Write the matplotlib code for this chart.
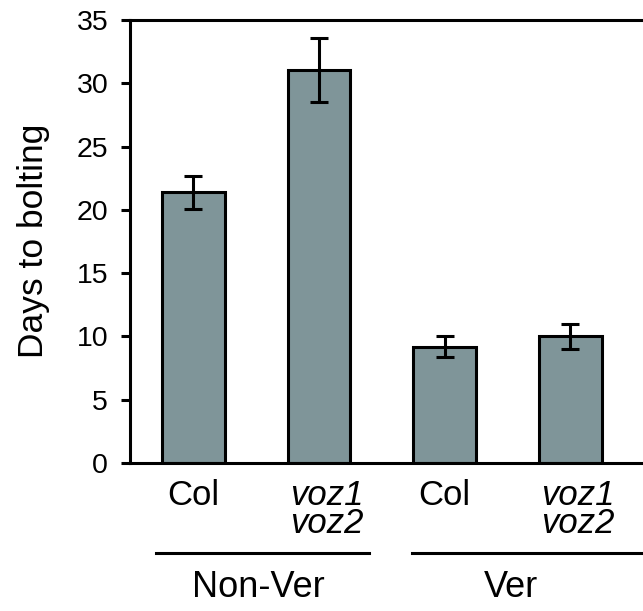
import matplotlib
matplotlib.use("Agg")
import matplotlib.pyplot as plt

plt.rcParams['font.family'] = ['Liberation Sans', 'DejaVu Sans']

categories = ["Col", "voz1\nvoz2", "Col", "voz1\nvoz2"]
italic = [False, True, False, True]
values = [21.4, 31.05, 9.2, 10.0]
errors = [1.3, 2.55, 0.8, 1.0]
groups = ["Non-Ver", "Ver"]
yticks = [0, 5, 10, 15, 20, 25, 30, 35]

fig = plt.figure(figsize=(6.43, 6.11), dpi=100)
ax = fig.add_axes([130/643, 148/611, 513/643, 443/611])

x = list(range(len(values)))
ax.bar(x, values, width=0.5, color="#7F9599", edgecolor="black", linewidth=2.2, zorder=2)
ax.errorbar(x, values, yerr=errors, fmt="none", ecolor="black", elinewidth=2.2,
            capsize=6.5, capthick=2.2, zorder=3)

ax.set_xlim(-0.504, 3.577)
ax.set_ylim(0, 35)
ax.set_yticks(yticks)
ax.set_yticklabels([str(t) for t in yticks], fontsize=20.5)
ax.tick_params(axis="y", length=6.7, width=2.2, pad=9)
ax.set_xticks([])
for s in ["left", "bottom", "top"]:
    ax.spines[s].set_linewidth(2.2)
ax.spines["right"].set_visible(False)
fig.text(34/643, 1 - 241/611, "Days to bolting", rotation=90, ha="center", va="center",
         fontsize=25.5)

trans = ax.get_xaxis_transform()
for xi, lab, it in zip(x, categories, italic):
    ax.text(xi + (0.06 if it else 0), -0.036, lab, transform=trans, ha="center", va="top",
            fontsize=25, style="italic" if it else "normal", linespacing=0.82,
            clip_on=False)

# group lines and labels
line_y = -0.2032
ax.plot([-0.30, 1.40], [line_y, line_y], transform=trans, color="black", lw=2.2, clip_on=False)
ax.plot([1.74, 3.7], [line_y, line_y], transform=trans, color="black", lw=2.2, clip_on=False)
for gx, g in zip([0.52, 2.53], groups):
    ax.text(gx, -0.28, g, transform=trans, ha="center", va="center", fontsize=26, clip_on=False)

fig.savefig("out.png", dpi=100)
